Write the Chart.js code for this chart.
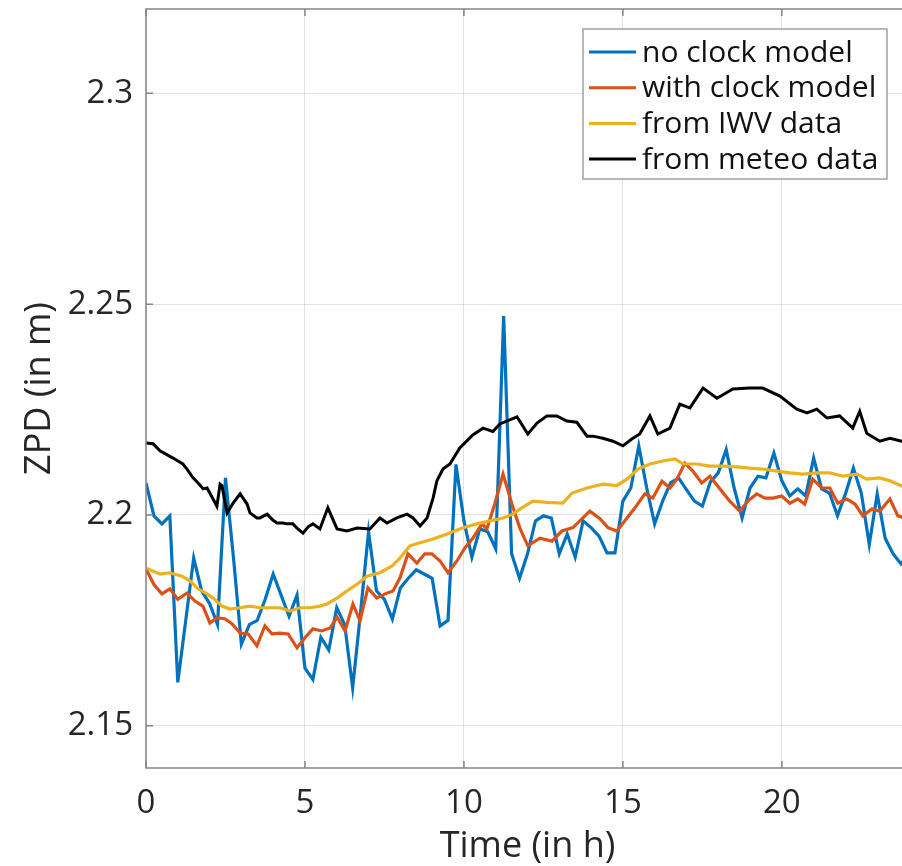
<!DOCTYPE html>
<html>
<head>
<meta charset="utf-8">
<script src="https://cdn.jsdelivr.net/npm/chart.js@4.4.0/dist/chart.umd.min.js"></script>
<style>
  html, body { margin: 0; padding: 0; overflow: hidden; background: #fff; }
  .wrap { position: relative; width: 910px; height: 866px; }
</style>
</head>
<body>
<div class="wrap"><canvas id="zpd"></canvas></div>
<script>
// ZPD time series over one day, four estimates
const xTicks = [0, 5, 10, 15, 20];
const yTicks = [2.15, 2.2, 2.25, 2.3];

const seriesNames = ['no clock model', 'with clock model', 'from IWV data', 'from meteo data'];
const seriesColors = ['#0072BD', '#D95319', '#EDB120', '#000000'];

const noClockHours = [
  0, 0.25, 0.5, 0.75, 1, 1.25, 1.5, 1.75, 2, 2.25, 2.5, 2.75, 3, 3.25, 3.5, 3.75,
  4, 4.25, 4.5, 4.75, 5, 5.25, 5.5, 5.75, 6, 6.25, 6.5, 6.75, 7, 7.25, 7.5, 7.75,
  8, 8.25, 8.5, 8.75, 9, 9.25, 9.5, 9.75, 10, 10.25, 10.5, 10.75, 11, 11.25, 11.5, 11.75,
  12, 12.25, 12.5, 12.75, 13, 13.25, 13.5, 13.75, 14, 14.25, 14.5, 14.75, 15, 15.25, 15.5, 15.75,
  16, 16.25, 16.5, 16.75, 17, 17.25, 17.5, 17.75, 18, 18.25, 18.5, 18.75, 19, 19.25, 19.5, 19.75,
  20, 20.25, 20.5, 20.75, 21, 21.25, 21.5, 21.75, 22, 22.25, 22.5, 22.75, 23, 23.25, 23.5, 23.75, 24
];
const noClockZpd = [
  2.2076, 2.1998, 2.1979, 2.1998, 2.1603, 2.1750, 2.1898, 2.1820, 2.1790, 2.1740, 2.2088, 2.1900, 2.1694, 2.1740, 2.1750, 2.1800,
  2.1860, 2.1810, 2.1760, 2.1810, 2.1637, 2.1610, 2.1710, 2.1680, 2.1780, 2.1740, 2.1590, 2.1770, 2.1960, 2.1820, 2.1800, 2.1753,
  2.1827, 2.1850, 2.1870, 2.1860, 2.1850, 2.1737, 2.1750, 2.2120, 2.1986, 2.1900, 2.1967, 2.1960, 2.1920, 2.2472, 2.1908, 2.1850,
  2.1908, 2.1986, 2.1998, 2.1993, 2.1908, 2.1955, 2.1900, 2.1986, 2.1970, 2.1950, 2.1910, 2.1910, 2.2033, 2.2064, 2.2164, 2.2064,
  2.1979, 2.2033, 2.2076, 2.2088, 2.2060, 2.2033, 2.2021, 2.2078, 2.2100, 2.2155, 2.2064, 2.1993, 2.2064, 2.2092, 2.2088, 2.2147,
  2.2081, 2.2045, 2.2062, 2.2045, 2.2135, 2.2062, 2.2052, 2.1998, 2.2050, 2.2111, 2.2052, 2.1930, 2.2050, 2.1945, 2.1908, 2.1884, 2.1910
];

const withClockHours = [
  0, 0.25, 0.5, 0.75, 1, 1.29, 1.54, 1.79, 2.01, 2.23, 2.48, 2.7, 2.96, 3.21, 3.49, 3.74,
  3.96, 4.21, 4.47, 4.75, 5, 5.25, 5.53, 5.79, 6.01, 6.26, 6.51, 6.73, 6.98, 7.26, 7.52, 7.77,
  7.99, 8.24, 8.52, 8.77, 8.99, 9.25, 9.5, 9.78, 10.03, 10.28, 10.57, 10.72, 10.97, 11.23, 11.51, 11.76,
  12.01, 12.39, 12.77, 13.08, 13.43, 13.71, 13.96, 14.28, 14.53, 14.81, 15.13, 15.38, 15.69, 15.94, 16.23, 16.48,
  16.7, 16.95, 17.2, 17.48, 17.74, 18.05, 18.36, 18.68, 18.93, 19.21, 19.47, 19.72, 20, 20.25, 20.5, 20.72,
  20.97, 21.26, 21.51, 21.76, 22.04, 22.3, 22.55, 22.83, 23.08, 23.4, 23.65, 24
];
const withClockZpd = [
  2.1872, 2.1835, 2.1813, 2.1825, 2.1800, 2.1815, 2.1796, 2.1784, 2.1744, 2.1756, 2.1754, 2.1742, 2.1720, 2.1718, 2.1690, 2.1737,
  2.1718, 2.1720, 2.1718, 2.1685, 2.1709, 2.1730, 2.1725, 2.1732, 2.1758, 2.1725, 2.1789, 2.1749, 2.1827, 2.1803, 2.1813, 2.1820,
  2.1851, 2.1908, 2.1886, 2.1908, 2.1908, 2.1891, 2.1863, 2.1891, 2.1922, 2.1945, 2.1979, 2.1967, 2.2026, 2.2097, 2.2026, 2.1969,
  2.1927, 2.1945, 2.1938, 2.1962, 2.1970, 2.1991, 2.2009, 2.1991, 2.1970, 2.1962, 2.1993, 2.2017, 2.2050, 2.2040, 2.2080, 2.2064,
  2.2085, 2.2123, 2.2104, 2.2076, 2.2092, 2.2062, 2.2033, 2.2009, 2.2033, 2.2050, 2.2040, 2.2040, 2.2045, 2.2028, 2.2038, 2.2026,
  2.2085, 2.2064, 2.2064, 2.2028, 2.2038, 2.2026, 2.1998, 2.2014, 2.2009, 2.2038, 2.1998, 2.1990
];

const iwvHours = [
  0, 0.44, 0.75, 1.13, 1.38, 1.64, 1.92, 2.11, 2.39, 2.64, 2.96, 3.27, 3.58, 3.9, 4.21, 4.53,
  4.84, 5.16, 5.47, 5.69, 6.01, 6.19, 6.42, 6.64, 6.95, 7.36, 7.74, 7.99, 8.3, 8.62, 9.03, 9.47,
  9.97, 10.41, 10.82, 11.23, 11.54, 11.76, 12.17, 12.61, 13.11, 13.4, 13.87, 14.37, 14.81, 15.13, 15.47, 15.85,
  16.26, 16.64, 16.89, 17.33, 17.74, 18.14, 18.58, 18.99, 19.4, 19.84, 20.25, 20.66, 21.1, 21.51, 21.92, 22.36,
  22.67, 23.08, 23.4, 23.77, 24
];
const iwvZpd = [
  2.1874, 2.1860, 2.1863, 2.1855, 2.1844, 2.1825, 2.1813, 2.1803, 2.1784, 2.1777, 2.1780, 2.1784, 2.1780, 2.1780, 2.1780, 2.1772,
  2.1780, 2.1780, 2.1784, 2.1789, 2.1803, 2.1813, 2.1825, 2.1836, 2.1855, 2.1863, 2.1879, 2.1898, 2.1927, 2.1934, 2.1943, 2.1955,
  2.1970, 2.1979, 2.1986, 2.1993, 2.2002, 2.2014, 2.2033, 2.2030, 2.2028, 2.2052, 2.2064, 2.2073, 2.2070, 2.2085, 2.2109, 2.2121,
  2.2128, 2.2133, 2.2121, 2.2121, 2.2116, 2.2116, 2.2114, 2.2111, 2.2109, 2.2104, 2.2100, 2.2097, 2.2100, 2.2100, 2.2092, 2.2097,
  2.2085, 2.2088, 2.2081, 2.2069, 2.2065
];

const meteoHours = [
  0, 0.22, 0.44, 0.85, 1.16, 1.29, 1.48, 1.64, 1.8, 1.92, 2.11, 2.23, 2.33, 2.39, 2.55, 2.74,
  2.96, 3.18, 3.27, 3.49, 3.58, 3.81, 3.99, 4.12, 4.31, 4.43, 4.62, 4.75, 4.94, 5.1, 5.25, 5.47,
  5.72, 6.01, 6.32, 6.64, 7.04, 7.36, 7.58, 7.89, 8.21, 8.4, 8.62, 8.84, 9.03, 9.15, 9.34, 9.56,
  9.87, 10.28, 10.6, 10.91, 11.13, 11.67, 12.01, 12.3, 12.61, 12.92, 13.24, 13.55, 13.87, 14.06, 14.37, 14.69,
  15, 15.28, 15.53, 15.85, 16.1, 16.48, 16.79, 17.11, 17.52, 17.96, 18.46, 18.99, 19.4, 19.94, 20.47, 20.79,
  21.1, 21.42, 21.82, 22.23, 22.45, 22.67, 23.08, 23.4, 23.77, 24
];
const meteoZpd = [
  2.2171, 2.2169, 2.2152, 2.2135, 2.2121, 2.2109, 2.2088, 2.2076, 2.2062, 2.2064, 2.2038, 2.2021, 2.2073, 2.2069, 2.2005, 2.2028,
  2.2050, 2.2026, 2.2005, 2.1993, 2.1993, 2.2002, 2.1988, 2.1981, 2.1981, 2.1979, 2.1979, 2.1969, 2.1957, 2.1972, 2.1979, 2.1967,
  2.2017, 2.1967, 2.1962, 2.1969, 2.1967, 2.1993, 2.1981, 2.1993, 2.2002, 2.1993, 2.1974, 2.1993, 2.2040, 2.2081, 2.2109, 2.2121,
  2.2159, 2.2190, 2.2206, 2.2198, 2.2216, 2.2233, 2.2192, 2.2218, 2.2235, 2.2235, 2.2223, 2.2220, 2.2187, 2.2187, 2.2182, 2.2175,
  2.2164, 2.2180, 2.2192, 2.2235, 2.2192, 2.2206, 2.2263, 2.2254, 2.2301, 2.2277, 2.2299, 2.2301, 2.2301, 2.2282, 2.2251, 2.2242,
  2.2251, 2.2230, 2.2235, 2.2206, 2.2246, 2.2194, 2.2175, 2.2182, 2.2175, 2.2175
];

function pairs(hours, values) {
  return hours.map((h, i) => ({ x: h, y: values[i] }));
}

const lineSets = [
  [noClockHours, noClockZpd, 3.2],
  [withClockHours, withClockZpd, 3.2],
  [iwvHours, iwvZpd, 3.2],
  [meteoHours, meteoZpd, 3]
];

// axes box with inward ticks, plus the legend box in the upper right
const boxAndLegend = {
  id: 'boxAndLegend',
  afterDatasetsDraw(chart) {
    const { ctx, chartArea: a, scales } = chart;
    ctx.save();
    ctx.strokeStyle = '#858585';
    ctx.lineWidth = 1.5;
    ctx.strokeRect(a.left, a.top, a.right - a.left, a.bottom - a.top);

    ctx.beginPath();
    xTicks.forEach(v => {
      const px = scales.x.getPixelForValue(v);
      ctx.moveTo(px, a.bottom); ctx.lineTo(px, a.bottom - 7);
      ctx.moveTo(px, a.top); ctx.lineTo(px, a.top + 7);
    });
    yTicks.forEach(v => {
      const py = scales.y.getPixelForValue(v);
      ctx.moveTo(a.left, py); ctx.lineTo(a.left + 7, py);
      ctx.moveTo(a.right, py); ctx.lineTo(a.right - 7, py);
    });
    ctx.stroke();

    const bx = 583, by = 29, bw = 304, bh = 150;
    ctx.fillStyle = '#ffffff';
    ctx.fillRect(bx, by, bw, bh);
    ctx.strokeStyle = '#a0a0a0';
    ctx.lineWidth = 1.5;
    ctx.strokeRect(bx, by, bw, bh);

    ctx.font = '30px "Open Sans"';
    ctx.textBaseline = 'middle';
    ctx.textAlign = 'left';
    chart.data.datasets.forEach((ds, i) => {
      const ry = by + 23 + i * 35.7;
      ctx.strokeStyle = ds.borderColor;
      ctx.lineWidth = 3;
      ctx.beginPath();
      ctx.moveTo(bx + 6, ry);
      ctx.lineTo(bx + 53, ry);
      ctx.stroke();
      ctx.fillStyle = '#111111';
      ctx.fillText(ds.label, bx + 59, ry + 1);
    });
    ctx.restore();
  }
};

// keep the plot box where it is, labels may overhang it
function noOverhang(scale) {
  scale.paddingTop = 0;
  scale.paddingBottom = 0;
  scale.paddingLeft = 0;
  scale.paddingRight = 0;
}

Chart.defaults.font.family = '"Open Sans", sans-serif';
Chart.defaults.color = '#262626';

new Chart(document.getElementById('zpd'), {
  type: 'line',
  data: {
    datasets: lineSets.map((s, i) => ({
      label: seriesNames[i],
      data: pairs(s[0], s[1]),
      borderColor: seriesColors[i],
      backgroundColor: seriesColors[i],
      borderWidth: s[2],
      pointRadius: 0,
      tension: 0,
      order: lineSets.length - i
    }))
  },
  options: {
    responsive: true,
    maintainAspectRatio: false,
    animation: false,
    layout: { padding: { top: 9, right: 1, left: 0, bottom: 0 } },
    plugins: {
      legend: { display: false },
      tooltip: { enabled: false }
    },
    scales: {
      x: {
        type: 'linear',
        min: 0,
        max: 24,
        afterBuildTicks: scale => { scale.ticks = xTicks.map(v => ({ value: v })); },
        afterFit: scale => { scale.height = 98; noOverhang(scale); },
        grid: { color: 'rgba(38,38,38,0.13)', lineWidth: 1, drawTicks: false },
        border: { display: false },
        ticks: { font: { size: 33 }, padding: 16, maxRotation: 0, callback: v => String(v) },
        title: { display: true, text: 'Time (in h)', font: { size: 36, lineHeight: 1 }, padding: { top: 0, bottom: 1 } }
      },
      y: {
        min: 2.14,
        max: 2.32,
        afterBuildTicks: scale => { scale.ticks = yTicks.map(v => ({ value: v })); },
        afterFit: scale => { scale.width = 146; noOverhang(scale); },
        grid: { color: 'rgba(38,38,38,0.13)', lineWidth: 1, drawTicks: false },
        border: { display: false },
        ticks: { font: { size: 33 }, padding: 13, callback: v => String(v) },
        title: { display: true, text: 'ZPD (in m)', font: { size: 36, lineHeight: 1 }, padding: { top: 22, bottom: 0 } }
      }
    }
  },
  plugins: [boxAndLegend]
});
</script>
</body>
</html>
